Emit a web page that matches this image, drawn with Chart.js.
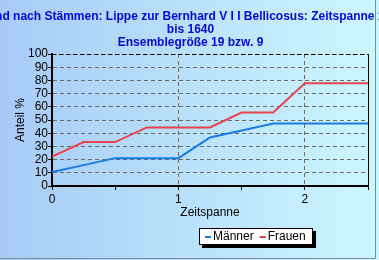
<!DOCTYPE html>
<html>
<head>
<meta charset="utf-8">
<script src="https://cdn.jsdelivr.net/npm/chart.js@4.4.1/dist/chart.umd.min.js"></script>
<style>
  html, body { margin: 0; padding: 0; background: #fff; }
  #wrap { width: 379px; height: 260px; position: relative; }
</style>
</head>
<body>
<div id="wrap"><canvas id="myChart" width="379" height="260"></canvas></div>
<script>
const titleLines = [
  "Stand nach Stämmen: Lippe zur Bernhard V I I Bellicosus: Zeitspanne 1600",
  "bis 1640",
  "Ensemblegröße 19 bzw. 9"
];
const zeitspanne = [0, 0.25, 0.5, 0.75, 1, 1.25, 1.5, 1.75, 2, 2.25, 2.5];
const maenner = [10.5, 15.8, 21.1, 21.1, 21.1, 36.8, 42.1, 47.4, 47.4, 47.4, 47.4];
const frauen = [22.2, 33.3, 33.3, 44.4, 44.4, 44.4, 55.6, 55.6, 77.8, 77.8, 77.8];
const seriesLabels = ["Männer", "Frauen"];
const seriesColors = ["#1a7ae6", "#e8434f"];

const toPoints = (vals) => vals.map((v, i) => ({ x: zeitspanne[i], y: v }));

const fontFamily = "'Liberation Sans', Arial, sans-serif";

// background gradient + outer frame
const backgroundPlugin = {
  id: 'bg',
  beforeDraw(chart) {
    const { ctx, width, height } = chart;
    ctx.save();
    const g = ctx.createLinearGradient(0, 0, width, 0);
    g.addColorStop(0, '#a7cbf6');
    g.addColorStop(1, '#cdf7ff');
    ctx.fillStyle = g;
    ctx.fillRect(0, 0, width, height);
    ctx.strokeStyle = '#7d8c9a';
    ctx.lineWidth = 1;
    ctx.beginPath();
    ctx.moveTo(0, 258.5);
    ctx.lineTo(375.5, 258.5);
    ctx.lineTo(375.5, 0);
    ctx.stroke();
    ctx.restore();
  },
  afterDraw(chart) {
    const { ctx, chartArea: a } = chart;
    ctx.save();
    // plot frame: dashed top, solid right
    ctx.strokeStyle = '#000';
    ctx.lineWidth = 1;
    ctx.setLineDash([4, 3]);
    ctx.beginPath();
    ctx.moveTo(a.left, a.top + 0.5);
    ctx.lineTo(a.right, a.top + 0.5);
    ctx.stroke();
    ctx.setLineDash([]);
    ctx.beginPath();
    ctx.moveTo(a.right + 0.5, a.top);
    ctx.lineTo(a.right + 0.5, a.bottom);
    ctx.stroke();

    // title, drawn without squeezing so long lines clip at the edges
    ctx.fillStyle = '#0808d6';
    ctx.font = "bold 12px " + fontFamily;
    ctx.textAlign = 'center';
    ctx.textBaseline = 'middle';
    titleLines.forEach((line, i) => ctx.fillText(line, chart.width / 2 + 1, 16.5 + i * 13));

    // legend box with shadow
    const bx = 199, by = 228, bw = 114, bh = 17;
    ctx.fillStyle = '#000';
    ctx.fillRect(bx + 3, by + 3, bw, bh);
    ctx.fillStyle = '#fff';
    ctx.fillRect(bx, by, bw, bh);
    ctx.strokeStyle = '#000';
    ctx.strokeRect(bx + 0.5, by + 0.5, bw - 1, bh - 1);
    ctx.font = "12px " + fontFamily;
    ctx.textAlign = 'left';
    let x = bx + 6;
    chart.data.datasets.forEach((ds) => {
      ctx.strokeStyle = ds.borderColor;
      ctx.lineWidth = 2;
      ctx.beginPath();
      ctx.moveTo(x, by + 9);
      ctx.lineTo(x + 6, by + 9);
      ctx.stroke();
      ctx.fillStyle = '#000';
      ctx.fillText(ds.label, x + 8, by + 9);
      x += 8 + ctx.measureText(ds.label).width + 6;
    });
    ctx.restore();
  }
};

const ctx = document.getElementById('myChart');
new Chart(ctx, {
  type: 'line',
  data: {
    datasets: [{
      label: seriesLabels[0],
      data: toPoints(maenner),
      borderColor: seriesColors[0],
      borderWidth: 2,
      pointRadius: 0,
      tension: 0
    }, {
      label: seriesLabels[1],
      data: toPoints(frauen),
      borderColor: seriesColors[1],
      borderWidth: 2,
      pointRadius: 0,
      tension: 0
    }]
  },
  options: {
    responsive: false,
    animation: false,
    layout: {
      padding: { top: 54, right: 11, bottom: 40, left: 0 }
    },
    scales: {
      x: {
        type: 'linear',
        min: 0,
        max: 2.5,
        afterFit: (scale) => { scale.height = 34; },
        ticks: {
          stepSize: 0.5,
          autoSkip: false,
          color: '#000',
          padding: 2,
          maxRotation: 0,
          font: { family: fontFamily, size: 12 },
          callback: (v) => (v % 1 === 0 ? v : '')
        },
        grid: {
          color: (c) => (c.tick && c.tick.value % 1 === 0 && c.tick.value > 0 ? '#6a6a6a' : 'transparent'),
          tickColor: '#000',
          tickLength: 4
        },
        border: { display: true, color: '#000', width: 2, dash: [4, 3] },
        title: {
          display: true,
          text: 'Zeitspanne',
          color: '#000',
          padding: 0,
          font: { family: fontFamily, size: 12 }
        }
      },
      y: {
        min: 0,
        max: 100,
        afterFit: (scale) => { scale.width = 52; },
        ticks: {
          stepSize: 10,
          autoSkip: false,
          color: '#000',
          padding: 0,
          font: { family: fontFamily, size: 12 }
        },
        grid: {
          color: '#6a6a6a',
          tickColor: '#000',
          tickLength: 4
        },
        border: { display: true, color: '#000', width: 2, dash: [4, 3] },
        title: {
          display: true,
          text: 'Anteil %',
          color: '#000',
          padding: { top: 13, bottom: 0 },
          font: { family: fontFamily, size: 12 }
        }
      }
    },
    plugins: {
      legend: { display: false },
      title: { display: false },
      tooltip: { enabled: false }
    }
  },
  plugins: [backgroundPlugin]
});
</script>
</body>
</html>
